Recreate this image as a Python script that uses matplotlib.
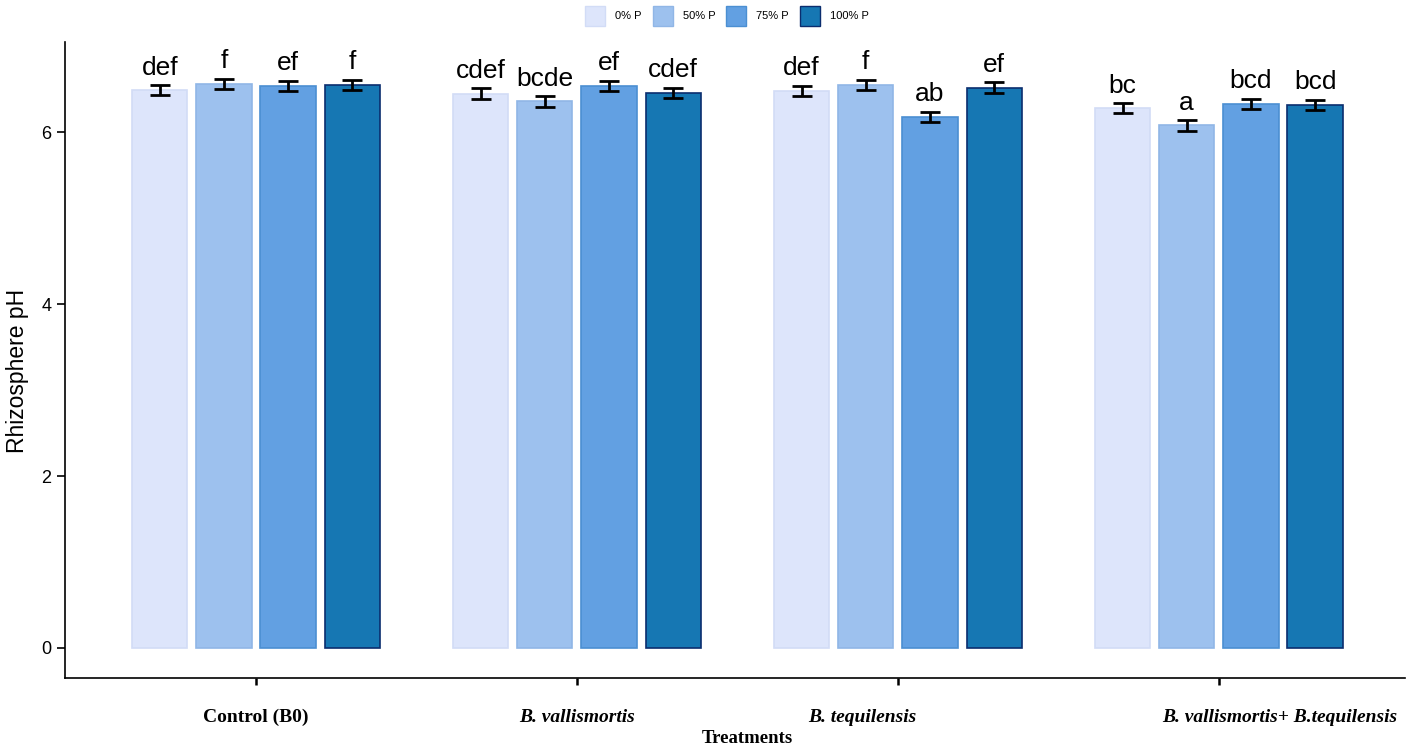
import numpy as np
import matplotlib
matplotlib.use("Agg")
import matplotlib.pyplot as plt
from matplotlib.patches import Patch

# treatments and P levels
treatments = ["Control (B0)", "B. vallismortis", "B. tequilensis",
              "B. vallismortis+ B.tequilensis"]
label_italic = [False, True, True, True]
p_levels = ["0% P", "50% P", "75% P", "100% P"]

# rhizosphere pH, one list per P level (across treatments)
ph_0 = [6.49, 6.45, 6.48, 6.28]
ph_50 = [6.56, 6.36, 6.55, 6.08]
ph_75 = [6.54, 6.54, 6.18, 6.33]
ph_100 = [6.55, 6.46, 6.52, 6.32]
err = [0.06, 0.06, 0.06, 0.06]

letters_0 = ["def", "cdef", "def", "bc"]
letters_50 = ["f", "bcde", "f", "a"]
letters_75 = ["ef", "ef", "ab", "bcd"]
letters_100 = ["f", "cdef", "ef", "bcd"]

series = [ph_0, ph_50, ph_75, ph_100]
letters = [letters_0, letters_50, letters_75, letters_100]
face_colors = ["#dde5fb", "#9dc1ee", "#62a0e2", "#1677b3"]
edge_colors = ["#d2dcf6", "#90b6e6", "#4b8fd2", "#0b2d6e"]

sans = "Liberation Sans"
serif = "Liberation Serif"

fig = plt.figure(figsize=(14.17, 7.49), dpi=100)
ax = fig.add_axes([0.0459, 0.0948, 0.9456, 0.849])

x = np.arange(len(treatments))
width = 0.172
for i, vals in enumerate(series):
    pos = x + (i - 1.5) * 0.2
    ax.bar(pos, vals, width=width, color=face_colors[i],
           edgecolor=edge_colors[i], linewidth=1.2, zorder=2)
    ax.errorbar(pos, vals, yerr=err, fmt="none", ecolor="black",
                elinewidth=2, capsize=7, capthick=2, zorder=3)
    for xp, v, e, lab in zip(pos, vals, err, letters[i]):
        ax.annotate(lab, (xp, v + e), xytext=(0, 4), textcoords="offset points",
                    ha="center", va="bottom", fontsize=19, family=sans)

ax.set_xlim(-0.595, 3.58)
ax.set_ylim(-0.35, 7.05)
ax.set_yticks([0, 2, 4, 6])
ax.tick_params(axis="y", labelsize=13, length=6, width=1.2, pad=4)
for lab in ax.get_yticklabels():
    lab.set_family(sans)
ax.set_xticks(x)
ax.set_xticklabels([])
ax.tick_params(axis="x", length=5, width=1.8)

# treatment names (two of them sit off their ticks in the original)
label_shift = [0.0, 0.0, -0.11, 0.19]
for xi, name, it, dx in zip(x, treatments, label_italic, label_shift):
    ax.text(xi + dx, -0.049, name, transform=ax.get_xaxis_transform(),
            ha="center", va="top", fontsize=14, fontweight="bold",
            style="italic" if it else "normal", family=serif)
ax.text(0.509, -0.081, "Treatments", transform=ax.transAxes, ha="center",
        va="top", fontsize=13.5, fontweight="bold", family=serif)

ax.set_ylabel("Rhizosphere pH", fontsize=16.5, family=sans)
ax.yaxis.set_label_coords(-0.027, 0.483)

for side in ["top", "right"]:
    ax.spines[side].set_visible(False)
for side in ["left", "bottom"]:
    ax.spines[side].set_linewidth(1.2)

handles = [Patch(facecolor=fc, edgecolor=ec, label=lab)
           for fc, ec, lab in zip(face_colors, edge_colors, p_levels)]
fig.legend(handles=handles, loc="upper center", bbox_to_anchor=(0.513, 1.005),
           ncol=4, frameon=False, prop={"family": sans, "size": 8},
           handlelength=1.8, handleheight=2.3, columnspacing=1.0,
           handletextpad=0.9)

fig.savefig("out.png", dpi=100)
